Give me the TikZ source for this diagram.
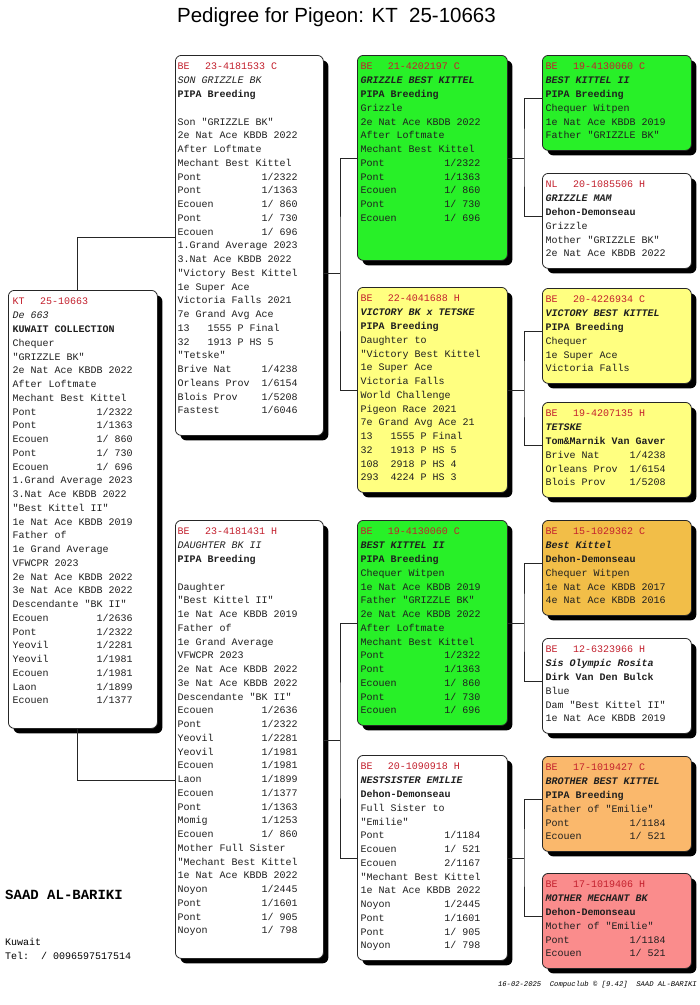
\documentclass[tikz,border=0pt]{standalone}
\usepackage{fontspec}
\setmonofont{Liberation Mono}
\newfontfamily\arialf{Liberation Sans}
\usetikzlibrary{shadows,calc}
\definecolor{ringred}{RGB}{195,32,45}
\definecolor{kgreen}{RGB}{40,240,40}
\definecolor{kyellow}{RGB}{255,255,128}
\definecolor{korange}{RGB}{242,190,72}
\definecolor{kpeach}{RGB}{250,184,108}
\definecolor{kpink}{RGB}{250,140,140}
\newcommand\rr[2]{\makebox[120pt][l]{#1\hfill#2}}
\newcommand\ring[2]{\rule{0pt}{10pt}\textcolor{ringred}{\makebox[27.5pt][l]{#1}#2}}
\tikzset{
  pbox/.style={draw=black!85, line width=0.8pt, rounded corners=6pt, anchor=north west,
    inner sep=0pt, minimum width=#1,
    drop shadow={shadow xshift=5pt, shadow yshift=-5pt, fill=black, opacity=1}},
  ptext/.style={anchor=north west, inner sep=0pt, align=left, text=black!88,
    font=\ttfamily\fontsize{10}{13.75}\selectfont},
  link/.style={draw=black!85, line width=0.8pt}
}
\begin{document}
\begin{tikzpicture}[x=1pt,y=-1pt]
\useasboundingbox[fill=white] (0,0) rectangle (700,1005);

% title
\node[anchor=base, font=\arialf\fontsize{20.5}{24}\selectfont] (title) at (336.5,22) {Pedigree for Pigeon: KT\ \ 25-10663};

% ---------- main ----------
\node[pbox=149pt, minimum height=438pt, fill=white] (main) at (8,290) {};
\node[ptext] (mainT) at (12.5,294) {\ring{KT}{25-10663}\\[1pt]
\textit{De 663}\\
\textbf{KUWAIT COLLECTION}\\
Chequer\\
"GRIZZLE BK"\\
2e Nat Ace KBDB 2022\\
After Loftmate\\
Mechant Best Kittel\\
\rr{Pont}{1/2322}\\
\rr{Pont}{1/1363}\\
\rr{Ecouen}{1/ 860}\\
\rr{Pont}{1/ 730}\\
\rr{Ecouen}{1/ 696}\\
1.Grand Average 2023\\
3.Nat Ace KBDB 2022\\
"Best Kittel II"\\
1e Nat Ace KBDB 2019\\
Father of\\
1e Grand Average\\
VFWCPR 2023\\
2e Nat Ace KBDB 2022\\
3e Nat Ace KBDB 2022\\
Descendante "BK II"\\
\rr{Ecouen}{1/2636}\\
\rr{Pont}{1/2322}\\
\rr{Yeovil}{1/2281}\\
\rr{Yeovil}{1/1981}\\
\rr{Ecouen}{1/1981}\\
\rr{Laon}{1/1899}\\
\rr{Ecouen}{1/1377}};

% ---------- parents ----------
\node[pbox=148pt, minimum height=380pt, fill=white] (p1) at (175,55) {};
\node[ptext] (p1T) at (177.5,59) {\ring{BE}{23-4181533 C}\\[1pt]
\textit{SON GRIZZLE BK}\\
\textbf{PIPA Breeding}\\
\mbox{}\\
Son "GRIZZLE BK"\\
2e Nat Ace KBDB 2022\\
After Loftmate\\
Mechant Best Kittel\\
\rr{Pont}{1/2322}\\
\rr{Pont}{1/1363}\\
\rr{Ecouen}{1/ 860}\\
\rr{Pont}{1/ 730}\\
\rr{Ecouen}{1/ 696}\\
1.Grand Average 2023\\
3.Nat Ace KBDB 2022\\
"Victory Best Kittel\\
1e Super Ace\\
Victoria Falls 2021\\
7e Grand Avg Ace\\
13\ \ \ 1555 P Final\\
32\ \ \ 1913 P HS 5\\
"Tetske"\\
\rr{Brive Nat}{1/4238}\\
\rr{Orleans Prov}{1/6154}\\
\rr{Blois Prov}{1/5208}\\
\rr{Fastest}{1/6046}};

\node[pbox=148pt, minimum height=438pt, fill=white] (p2) at (175,520) {};
\node[ptext] (p2T) at (177.5,524) {\ring{BE}{23-4181431 H}\\[1pt]
\textit{DAUGHTER BK II}\\
\textbf{PIPA Breeding}\\
\mbox{}\\
Daughter\\
"Best Kittel II"\\
1e Nat Ace KBDB 2019\\
Father of\\
1e Grand Average\\
VFWCPR 2023\\
2e Nat Ace KBDB 2022\\
3e Nat Ace KBDB 2022\\
Descendante "BK II"\\
\rr{Ecouen}{1/2636}\\
\rr{Pont}{1/2322}\\
\rr{Yeovil}{1/2281}\\
\rr{Yeovil}{1/1981}\\
\rr{Ecouen}{1/1981}\\
\rr{Laon}{1/1899}\\
\rr{Ecouen}{1/1377}\\
\rr{Pont}{1/1363}\\
\rr{Momig}{1/1253}\\
\rr{Ecouen}{1/ 860}\\
Mother Full Sister\\
"Mechant Best Kittel\\
1e Nat Ace KBDB 2022\\
\rr{Noyon}{1/2445}\\
\rr{Pont}{1/1601}\\
\rr{Pont}{1/ 905}\\
\rr{Noyon}{1/ 798}};

% ---------- grandparents ----------
\node[pbox=150pt, minimum height=205pt, fill=kgreen] (gp1) at (357,55) {};
\node[ptext] (gp1T) at (360.3,59) {\ring{BE}{21-4202197 C}\\[1pt]
\textbf{\textit{GRIZZLE BEST KITTEL}}\\
\textbf{PIPA Breeding}\\
Grizzle\\
2e Nat Ace KBDB 2022\\
After Loftmate\\
Mechant Best Kittel\\
\rr{Pont}{1/2322}\\
\rr{Pont}{1/1363}\\
\rr{Ecouen}{1/ 860}\\
\rr{Pont}{1/ 730}\\
\rr{Ecouen}{1/ 696}};

\node[pbox=150pt, minimum height=205pt, fill=kyellow] (gp2) at (357,287) {};
\node[ptext] (gp2T) at (360.3,291) {\ring{BE}{22-4041688 H}\\[1pt]
\textbf{\textit{VICTORY BK x TETSKE}}\\
\textbf{PIPA Breeding}\\
Daughter to\\
"Victory Best Kittel\\
1e Super Ace\\
Victoria Falls\\
World Challenge\\
Pigeon Race 2021\\
7e Grand Avg Ace 21\\
13\ \ \ 1555 P Final\\
32\ \ \ 1913 P HS 5\\
108\ \ 2918 P HS 4\\
293\ \ 4224 P HS 3};

\node[pbox=150pt, minimum height=205pt, fill=kgreen] (gp3) at (357,520) {};
\node[ptext] (gp3T) at (360.3,524) {\ring{BE}{19-4130060 C}\\[1pt]
\textbf{\textit{BEST KITTEL II}}\\
\textbf{PIPA Breeding}\\
Chequer Witpen\\
1e Nat Ace KBDB 2019\\
Father "GRIZZLE BK"\\
2e Nat Ace KBDB 2022\\
After Loftmate\\
Mechant Best Kittel\\
\rr{Pont}{1/2322}\\
\rr{Pont}{1/1363}\\
\rr{Ecouen}{1/ 860}\\
\rr{Pont}{1/ 730}\\
\rr{Ecouen}{1/ 696}};

\node[pbox=150pt, minimum height=205pt, fill=white] (gp4) at (357,755) {};
\node[ptext] (gp4T) at (360.3,759) {\ring{BE}{20-1090918 H}\\[1pt]
\textbf{\textit{NESTSISTER EMILIE}}\\
\textbf{Dehon-Demonseau}\\
Full Sister to\\
"Emilie"\\
\rr{Pont}{1/1184}\\
\rr{Ecouen}{1/ 521}\\
\rr{Ecouen}{2/1167}\\
"Mechant Best Kittel\\
1e Nat Ace KBDB 2022\\
\rr{Noyon}{1/2445}\\
\rr{Pont}{1/1601}\\
\rr{Pont}{1/ 905}\\
\rr{Noyon}{1/ 798}};

% ---------- great-grandparents ----------
\node[pbox=149pt, minimum height=95pt, fill=kgreen] (ggp1) at (542,55) {};
\node[ptext] (ggp1T) at (545.5,59) {\ring{BE}{19-4130060 C}\\[1pt]
\textbf{\textit{BEST KITTEL II}}\\
\textbf{PIPA Breeding}\\
Chequer Witpen\\
1e Nat Ace KBDB 2019\\
Father "GRIZZLE BK"};

\node[pbox=149pt, minimum height=95pt, fill=white] (ggp2) at (542,173) {};
\node[ptext] (ggp2T) at (545.5,177) {\ring{NL}{20-1085506 H}\\[1pt]
\textbf{\textit{GRIZZLE MAM}}\\
\textbf{Dehon-Demonseau}\\
Grizzle\\
Mother "GRIZZLE BK"\\
2e Nat Ace KBDB 2022};

\node[pbox=149pt, minimum height=95pt, fill=kyellow] (ggp3) at (542,288) {};
\node[ptext] (ggp3T) at (545.5,292) {\ring{BE}{20-4226934 C}\\[1pt]
\textbf{\textit{VICTORY BEST KITTEL}}\\
\textbf{PIPA Breeding}\\
Chequer\\
1e Super Ace\\
Victoria Falls};

\node[pbox=149pt, minimum height=95pt, fill=kyellow] (ggp4) at (542,402) {};
\node[ptext] (ggp4T) at (545.5,406) {\ring{BE}{19-4207135 H}\\[1pt]
\textbf{\textit{TETSKE}}\\
\textbf{Tom\&Marnik Van Gaver}\\
\rr{Brive Nat}{1/4238}\\
\rr{Orleans Prov}{1/6154}\\
\rr{Blois Prov}{1/5208}};

\node[pbox=149pt, minimum height=95pt, fill=korange] (ggp5) at (542,520) {};
\node[ptext] (ggp5T) at (545.5,524) {\ring{BE}{15-1029362 C}\\[1pt]
\textbf{\textit{Best Kittel}}\\
\textbf{Dehon-Demonseau}\\
Chequer Witpen\\
1e Nat Ace KBDB 2017\\
4e Nat Ace KBDB 2016};

\node[pbox=149pt, minimum height=95pt, fill=white] (ggp6) at (542,638) {};
\node[ptext] (ggp6T) at (545.5,642) {\ring{BE}{12-6323966 H}\\[1pt]
\textbf{\textit{Sis Olympic Rosita}}\\
\textbf{Dirk Van Den Bulck}\\
Blue\\
Dam "Best Kittel II"\\
1e Nat Ace KBDB 2019};

\node[pbox=149pt, minimum height=95pt, fill=kpeach] (ggp7) at (542,756) {};
\node[ptext] (ggp7T) at (545.5,760) {\ring{BE}{17-1019427 C}\\[1pt]
\textbf{\textit{BROTHER BEST KITTEL}}\\
\textbf{PIPA Breeding}\\
Father of "Emilie"\\
\rr{Pont}{1/1184}\\
\rr{Ecouen}{1/ 521}};

\node[pbox=149pt, minimum height=95pt, fill=kpink] (ggp8) at (542,873) {};
\node[ptext] (ggp8T) at (545.5,877) {\ring{BE}{17-1019406 H}\\[1pt]
\textbf{\textit{MOTHER MECHANT BK}}\\
\textbf{Dehon-Demonseau}\\
Mother of "Emilie"\\
\rr{Pont}{1/1184}\\
\rr{Ecouen}{1/ 521}};

% ---------- connectors ----------
\coordinate (jm1) at (77,237);
\coordinate (jm2) at (77,780);
\draw[link] (main.north -| jm1) -- (jm1) -- (p1.west |- jm1);
\draw[link] (main.south -| jm2) -- (jm2) -- (p2.west |- jm2);

\coordinate (vp1) at (340,273.5);
\coordinate (vp2) at (340,740);
\draw[link] (p1.east |- vp1) -- (vp1);
\draw[link] (gp1.west) -| (vp1) |- (gp2.west);
\draw[link] (p2.east |- vp2) -- (vp2);
\draw[link] (gp3.west) -| (vp2) |- (gp4.west);

\coordinate (vx) at (524,0);
\draw[link] (gp1.east) -- (gp1.east -| vx);
\draw[link] ($(ggp1.north west)+(0,43)$) -| (gp1.east -| vx) |- ($(ggp2.north west)+(0,43)$);
\draw[link] (gp2.east) -- (gp2.east -| vx);
\draw[link] ($(ggp3.north west)+(0,43)$) -| (gp2.east -| vx) |- ($(ggp4.north west)+(0,43)$);
\draw[link] (gp3.east) -- (gp3.east -| vx);
\draw[link] ($(ggp5.north west)+(0,43)$) -| (gp3.east -| vx) |- ($(ggp6.north west)+(0,43)$);
\draw[link] (gp4.east) -- (gp4.east -| vx);
\draw[link] ($(ggp7.north west)+(0,43)$) -| (gp4.east -| vx) |- ($(ggp8.north west)+(0,43)$);

% ---------- owner & footer ----------
\node[anchor=base west, inner sep=0pt, font=\ttfamily\bfseries\fontsize{14}{14}\selectfont] (owner) at (5,899.5) {SAAD AL-BARIKI};
\node[anchor=base west, inner sep=0pt, font=\ttfamily\fontsize{10}{10}\selectfont] (city) at (5,945.5) {Kuwait};
\node[anchor=base west, inner sep=0pt, font=\ttfamily\fontsize{10}{10}\selectfont] (tel) at (5,959.5) {Tel:\ \ / 0096597517514};
\node[anchor=base east, inner sep=0pt, font=\ttfamily\itshape\fontsize{7.2}{7.2}\selectfont] (footer) at (697,986) {16-02-2025\ \ Compuclub © [9.42]\ \ SAAD AL-BARIKI};
\end{tikzpicture}
\end{document}
